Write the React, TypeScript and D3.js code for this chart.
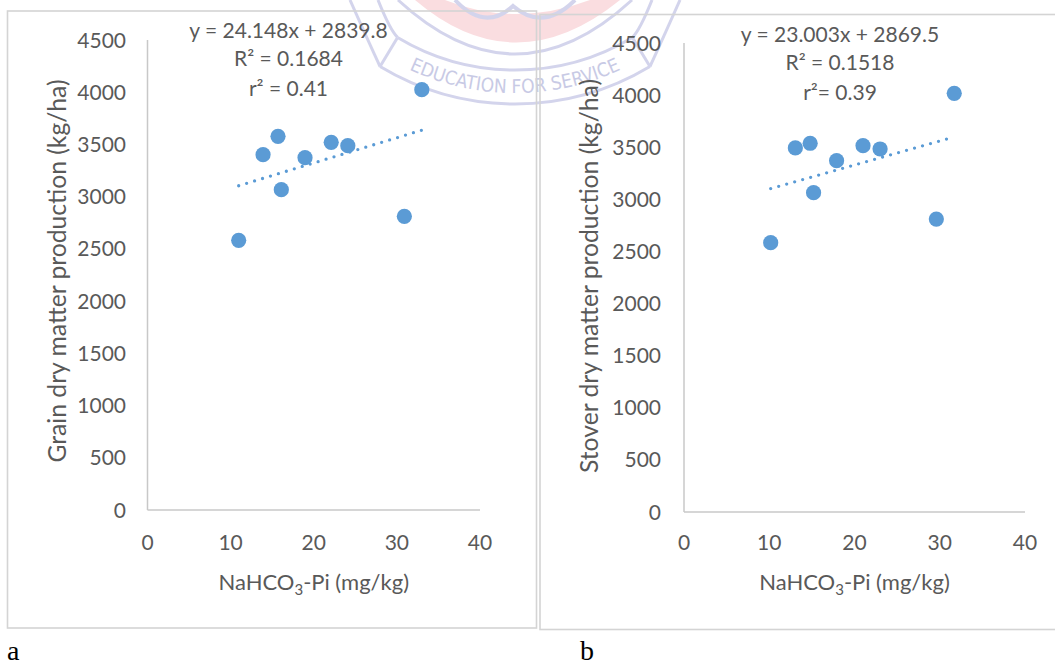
import React from 'react';
import * as d3 from 'd3';

// ---- data ----
const xTicks = [0, 10, 20, 30, 40];
const yTicks = [0, 500, 1000, 1500, 2000, 2500, 3000, 3500, 4000, 4500];

const grainPi = [10.97, 13.9, 15.7, 16.1, 18.95, 22.1, 24.1, 30.9, 33.0];
const grainYield = [2582, 3402, 3578, 3067, 3373, 3520, 3488, 2812, 4024];

const stoverPi = [10.17, 13.06, 14.8, 15.2, 17.9, 21.0, 23.0, 29.6, 31.7];
const stoverYield = [2584, 3493, 3538, 3064, 3371, 3515, 3483, 2811, 4017];

const grainFit = [24.148, 2839.8]; // slope, intercept
const stoverFit = [23.003, 2869.5];

const grainLabels = ['y = 24.148x + 2839.8', 'R² = 0.1684', 'r² = 0.41'];
const stoverLabels = ['y = 23.003x + 2869.5', 'R² = 0.1518', 'r²= 0.39'];

const yTitles = ['Grain dry matter production (kg/ha)', 'Stover dry matter production (kg/ha)'];
const panelLetters = ['a', 'b'];
const watermarkText = 'EDUCATION FOR SERVICE';

const FONT = "Lato, 'Open Sans', sans-serif";
const TXT = '#595959';
const BLUE = '#5B9BD5';
const AXIS = '#c8c8c8';

type Layout = {
  box: number[]; xr: number[]; yr: number[]; tickRight: number; xTickBase: number;
  xTitleBase: number; yTitleX: number; yTitleY: number; yTitleLen: number; eqX: number; eqBase: number[];
  letterX: number; letterBase: number;
};

const layouts: Layout[] = [
  { box: [7.5, 11, 529, 617], xr: [147.5, 480], yr: [510, 40], tickRight: 126, xTickBase: 550,
    xTitleBase: 590, yTitleX: 66, yTitleY: 271, yTitleLen: 383, eqX: 288.5, eqBase: [37.7, 66, 96],
    letterX: 7, letterBase: 660 },
  { box: [540, 14.5, 530, 615], xr: [684, 1025], yr: [512, 43], tickRight: 661, xTickBase: 550,
    xTitleBase: 590, yTitleX: 598, yTitleY: 276, yTitleLen: 394, eqX: 840, eqBase: [41.7, 70, 100],
    letterX: 580, letterBase: 660 },
];

function Panel({ L, xs, ys, fit, labels, yTitle, letter }:
  { L: Layout; xs: number[]; ys: number[]; fit: number[]; labels: string[]; yTitle: string; letter: string }) {
  const x = d3.scaleLinear().domain([0, 40]).range(L.xr);
  const y = d3.scaleLinear().domain([0, 4500]).range(L.yr);
  const xMin = d3.min(xs) as number;
  const xMax = d3.max(xs) as number;
  const line = d3.line<number>().x((d) => x(d)).y((d) => y(fit[0] * d + fit[1]));
  const fs = 21;
  return (
    <g>
      <rect x={L.box[0]} y={L.box[1]} width={L.box[2]} height={L.box[3]} fill="none" stroke="#d4d4d4" strokeWidth={1.6} />
      {/* axes */}
      <line x1={x(0)} x2={x(0)} y1={y(0)} y2={y(4500)} stroke={AXIS} strokeWidth={1.5} />
      <line x1={x(0)} x2={x(40)} y1={y(0)} y2={y(0)} stroke={AXIS} strokeWidth={1.5} />
      {yTicks.map((t) => (
        <text key={'y' + t} x={L.tickRight} y={y(t) + fs * 0.36} textAnchor="end" fontSize={fs} fill={TXT} fontFamily={FONT}>{t}</text>
      ))}
      {xTicks.map((t) => (
        <text key={'x' + t} x={x(t)} y={L.xTickBase} textAnchor="middle" fontSize={fs} fill={TXT} fontFamily={FONT}>{t}</text>
      ))}
      <text x={(L.xr[0] + L.xr[1]) / 2} y={L.xTitleBase} textAnchor="middle" fontSize={22} fill={TXT} fontFamily={FONT}>
        <tspan>NaHCO</tspan><tspan dy={5} fontSize={15}>3</tspan><tspan dy={-5}>-Pi (mg/kg)</tspan>
      </text>
      <text transform={`translate(${L.yTitleX},${L.yTitleY}) rotate(-90)`} textAnchor="middle" fontSize={25}
        textLength={L.yTitleLen} lengthAdjust="spacingAndGlyphs" fill={TXT} fontFamily={FONT}>{yTitle}</text>
      {/* trendline */}
      <path d={line([xMin, xMax]) || ''} fill="none" stroke={BLUE} strokeWidth={3.3} strokeLinecap="round" strokeDasharray="0 8.3" />
      {/* points */}
      {xs.map((v, i) => (
        <circle key={i} cx={x(v)} cy={y(ys[i])} r={7.6} fill={BLUE} />
      ))}
      {labels.map((s, i) => (
        <text key={'eq' + i} x={L.eqX} y={L.eqBase[i]} textAnchor="middle" fontSize={21} fill={TXT} fontFamily={FONT}>{s}</text>
      ))}
      <text x={L.letterX} y={L.letterBase} fontSize={28} fill="#000" fontFamily="'Liberation Serif', 'Times New Roman', serif">{letter}</text>
    </g>
  );
}

function Watermark() {
  const cx = 515, cy = -158;
  const pt = (r: number, deg: number) => [cx + r * Math.cos((deg * Math.PI) / 180), cy + r * Math.sin((deg * Math.PI) / 180)];
  const arc = (r: number, a0: number, a1: number) => {
    const p0 = pt(r, a0), p1 = pt(r, a1);
    return `M${p0[0]},${p0[1]} A${r},${r} 0 0 0 ${p1[0]},${p1[1]}`;
  };
  const lav = '#cfd0ea';
  const b0 = pt(228, 121), b1 = pt(262, 121), b2 = pt(228, 59), b3 = pt(262, 59);
  return (
    <g opacity={0.9}>
      <defs>
        <path id="wmArc" d={arc(251, 124, 56)} />
      </defs>
      <path d="M415,0 Q515,85 620,0 L590,0 Q515,28 445,0 Z" fill="#fadadd" />
      <path d="M455,0 Q485,32 513,6 Q543,32 575,0" fill="none" stroke={lav} strokeWidth={4} />
      <path d="M398,0 Q515,108 632,0" fill="none" stroke={lav} strokeWidth={3} />
      <path d={arc(228, 121, 59)} fill="none" stroke={lav} strokeWidth={3} />
      <path d={arc(262, 121, 59)} fill="none" stroke={lav} strokeWidth={3} />
      <path d={`M${b0[0]},${b0[1]} L${b1[0]},${b1[1]}`} stroke={lav} strokeWidth={3} />
      <path d={`M${b2[0]},${b2[1]} L${b3[0]},${b3[1]}`} stroke={lav} strokeWidth={3} />
      <path d={`M${b1[0]},${b1[1]} Q370,45 350,0`} fill="none" stroke={lav} strokeWidth={3} />
      <path d={`M${b0[0]},${b0[1]} Q390,30 378,0`} fill="none" stroke={lav} strokeWidth={3} />
      <path d={`M${b3[0]},${b3[1]} Q660,45 680,0`} fill="none" stroke={lav} strokeWidth={3} />
      <path d={`M${b2[0]},${b2[1]} Q640,30 652,0`} fill="none" stroke={lav} strokeWidth={3} />
      <text fontSize={19} fill="#c3c5e3" fontFamily="'DejaVu Sans Condensed', 'DejaVu Sans', sans-serif">
        <textPath href="#wmArc" startOffset="50%" textAnchor="middle">{watermarkText}</textPath>
      </text>
    </g>
  );
}

export default function App() {
  return (
    <svg width={1055} height={666} style={{ position: 'absolute', left: 0, top: 0, background: '#fff' }}>
      <rect x={0} y={0} width={1055} height={666} fill="#fff" />
      <Watermark />
      <Panel L={layouts[0]} xs={grainPi} ys={grainYield} fit={grainFit} labels={grainLabels} yTitle={yTitles[0]} letter={panelLetters[0]} />
      <Panel L={layouts[1]} xs={stoverPi} ys={stoverYield} fit={stoverFit} labels={stoverLabels} yTitle={yTitles[1]} letter={panelLetters[1]} />
    </svg>
  );
}
